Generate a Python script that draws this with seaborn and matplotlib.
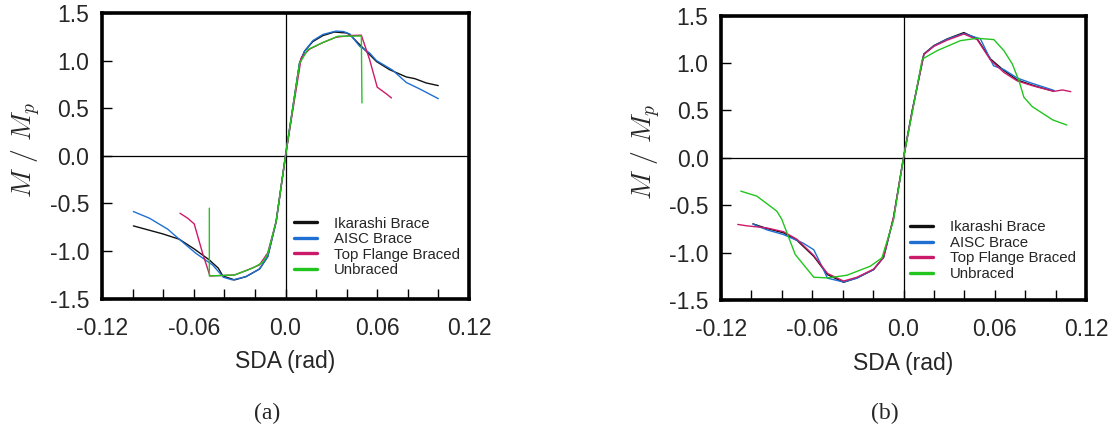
import numpy as np
import pandas as pd
import seaborn as sns
import matplotlib
matplotlib.use("Agg")
import matplotlib.pyplot as plt

# ----------------------------------------------------------------------
# Data: SDA (rad) vs M/Mp backbone curves
# ----------------------------------------------------------------------
series_names = ["Ikarashi Brace", "AISC Brace", "Top Flange Braced", "Unbraced"]
series_colors = ["#111111", "#1f6fd2", "#cc1a6a", "#22c41e"]

# panel (a)
ika_a_x = [-0.0995, -0.0805, -0.0695, -0.0597, -0.0498, -0.044, -0.041, -0.0334, -0.0258, -0.017,
           -0.0116, -0.0061, 0.0, 0.0092, 0.0125, 0.0179, 0.0245, 0.032, 0.0398, 0.042, 0.0485,
           0.0595, 0.068, 0.079, 0.0846, 0.092, 0.0999]
ika_a_y = [-0.737, -0.82, -0.877, -0.979, -1.095, -1.18, -1.263, -1.305, -1.27, -1.19,
           -1.06, -0.69, 0.0, 0.976, 1.10, 1.20, 1.263, 1.30, 1.29, 1.274, 1.168,
           0.99, 0.905, 0.828, 0.81, 0.765, 0.737]

aisc_a_x = [-0.0995, -0.089, -0.077, -0.0695, -0.0586, -0.0477, -0.0406, -0.0346, -0.0258, -0.017,
            -0.0116, -0.0061, 0.0, 0.0092, 0.0125, 0.0179, 0.0245, 0.033, 0.038, 0.042, 0.0485,
            0.055, 0.0595, 0.07, 0.079, 0.088, 0.0999]
aisc_a_y = [-0.586, -0.656, -0.772, -0.877, -1.025, -1.147, -1.277, -1.305, -1.27, -1.19,
            -1.06, -0.69, 0.0, 0.976, 1.10, 1.21, 1.275, 1.31, 1.305, 1.28, 1.15,
            1.08, 1.0, 0.90, 0.77, 0.70, 0.60]

top_a_x = [-0.069, -0.064, -0.0597, -0.0542, -0.0494, -0.0334, -0.0258, -0.017, -0.0116, -0.0061,
           0.0, 0.0103, 0.0157, 0.0245, 0.033, 0.042, 0.0496, 0.055, 0.060, 0.066, 0.0693]
top_a_y = [-0.604, -0.656, -0.716, -1.025, -1.263, -1.253, -1.207, -1.147, -1.02, -0.69,
           0.0, 1.03, 1.12, 1.19, 1.245, 1.263, 1.267, 1.01, 0.72, 0.65, 0.607]

unb_a_x = [-0.0498, -0.0498, -0.0334, -0.0214, -0.0149, -0.0116, -0.0061, 0.0, 0.0092, 0.0146,
           0.0245, 0.0343, 0.0496, 0.0500]
unb_a_y = [-0.551, -1.263, -1.253, -1.18, -1.12, -1.03, -0.69, 0.0, 0.97, 1.116,
           1.19, 1.256, 1.258, 0.555]

# panel (b)
ika_b_x = [-0.099, -0.0899, -0.0789, -0.070, -0.059, -0.050, -0.0394, -0.0306, -0.0197, -0.0131,
           -0.0066, 0.0, 0.0057, 0.0134, 0.020, 0.0287, 0.0397, 0.0485, 0.0572, 0.066, 0.0748,
           0.0858, 0.099]
ika_b_y = [-0.697, -0.746, -0.792, -0.872, -1.04, -1.232, -1.313, -1.267, -1.18, -1.05,
           -0.634, 0.0, 0.496, 1.095, 1.183, 1.253, 1.32, 1.253, 1.042, 0.92, 0.82,
           0.76, 0.70]

aisc_b_x = [-0.099, -0.0899, -0.0789, -0.066, -0.059, -0.0535, -0.050, -0.0394, -0.0306, -0.0197,
            -0.0131, -0.0066, 0.0, 0.0057, 0.0134, 0.020, 0.0287, 0.0397, 0.0506, 0.0592,
            0.066, 0.0748, 0.0836, 0.099]
aisc_b_y = [-0.70, -0.76, -0.81, -0.90, -0.97, -1.15, -1.27, -1.31, -1.27, -1.18,
            -1.05, -0.64, 0.0, 0.49, 1.09, 1.18, 1.25, 1.31, 1.253, 0.97,
            0.93, 0.84, 0.79, 0.71]

top_b_x = [-0.109, -0.103, -0.0899, -0.0789, -0.070, -0.059, -0.050, -0.0394, -0.0306, -0.0197,
           -0.0131, -0.0066, 0.0, 0.0057, 0.0134, 0.020, 0.0287, 0.0397, 0.0485, 0.0572,
           0.066, 0.0748, 0.0858, 0.099, 0.1045, 0.110]
top_b_y = [-0.703, -0.718, -0.74, -0.78, -0.86, -1.03, -1.22, -1.30, -1.26, -1.175,
           -1.05, -0.63, 0.0, 0.49, 1.09, 1.175, 1.24, 1.305, 1.245, 1.03,
           0.90, 0.81, 0.755, 0.70, 0.715, 0.697]

unb_b_x = [-0.107, -0.0964, -0.0833, -0.080, -0.0712, -0.059, -0.050, -0.0372, -0.0219, -0.0142,
           -0.0066, 0.0, 0.0057, 0.0123, 0.0222, 0.0375, 0.0485, 0.0594, 0.066, 0.0715,
           0.0759, 0.0792, 0.0846, 0.098, 0.1074]
unb_b_y = [-0.352, -0.405, -0.563, -0.65, -1.02, -1.26, -1.267, -1.239, -1.144, -1.056,
           -0.66, 0.0, 0.47, 1.04, 1.13, 1.235, 1.26, 1.246, 1.13, 0.99,
           0.813, 0.637, 0.54, 0.40, 0.345]

x_ticks = np.round(np.arange(-0.12, 0.1201, 0.02), 2)
x_labels = {-0.12: "-0.12", -0.06: "-0.06", 0.0: "0.0", 0.06: "0.06", 0.12: "0.12"}
y_ticks = [-1.5, -1.0, -0.5, 0.0, 0.5, 1.0, 1.5]
y_labels = ["-1.5", "-1.0", "-0.5", "0.0", "0.5", "1.0", "1.5"]


def to_long(xs, ys):
    """Stack the four series into one long table for seaborn."""
    frames = []
    for name, x, y in zip(series_names, xs, ys):
        frames.append(pd.DataFrame({"SDA": x, "M": y, "Case": name}))
    return pd.concat(frames, ignore_index=True)


panels = [
    ("(a)", to_long([ika_a_x, aisc_a_x, top_a_x, unb_a_x], [ika_a_y, aisc_a_y, top_a_y, unb_a_y]),
     [102 / 1116, 137.5 / 436, 367 / 1116, 285.5 / 436], 0.523, 0.287),
    ("(b)", to_long([ika_b_x, aisc_b_x, top_b_x, unb_b_x], [ika_b_y, aisc_b_y, top_b_y, unb_b_y]),
     [721 / 1116, 136 / 436, 365 / 1116, 284.5 / 436], 0.518, 0.28),
]

# ----------------------------------------------------------------------
# Figure
# ----------------------------------------------------------------------
sns.set_style("white")
plt.rcParams["font.family"] = ["Liberation Sans", "DejaVu Sans"]
plt.rcParams["mathtext.fontset"] = "cm"
plt.rcParams["axes.unicode_minus"] = False

fig = plt.figure(figsize=(11.16, 4.36), dpi=100)
palette = dict(zip(series_names, series_colors))

for tag, df, rect, lx, ly in panels:
    ax = fig.add_axes(rect)
    ax.axhline(0, color="black", lw=0.9, zorder=1)
    ax.axvline(0, color="black", lw=0.9, zorder=1)
    sns.lineplot(data=df, x="SDA", y="M", hue="Case", palette=palette, hue_order=series_names,
                 sort=False, estimator=None, units="Case", lw=1.0, ax=ax, zorder=2)

    ax.set_xlim(-0.12, 0.12)
    ax.set_ylim(-1.5, 1.5)
    ax.set_xticks(x_ticks)
    ax.set_xticklabels([x_labels.get(float(t), "") for t in x_ticks])
    ax.set_yticks(y_ticks)
    ax.set_yticklabels(y_labels)
    ax.tick_params(axis="x", bottom=True, top=False, direction="in", length=7, width=1,
                   color="black", pad=13, labelsize=16.5)
    ax.tick_params(axis="y", left=True, right=False, direction="in", length=7, width=1,
                   color="black", pad=9, labelsize=16.5)

    for s in ax.spines.values():
        s.set_linewidth(2.6)
        s.set_color("black")
        s.set_visible(True)

    ax.set_xlabel("SDA (rad)", fontsize=16.5)
    ax.xaxis.label.set_va("center")
    ax.xaxis.set_label_coords(0.5, -0.222)
    ax.set_ylabel(r"$M\ /\ M_p$", fontsize=20)
    ax.yaxis.label.set_va("center")
    ax.yaxis.set_label_coords(-0.205, 0.52)

    handles, labels = ax.get_legend_handles_labels()
    leg = ax.legend(handles, labels, loc="upper left", bbox_to_anchor=(lx, ly), frameon=False,
                    fontsize=10.8, handlelength=1.55, handletextpad=1.1, labelspacing=0.1,
                    borderpad=0, borderaxespad=0)
    for h in leg.get_lines():
        h.set_linewidth(2.4)

    fig.text(rect[0] + rect[2] * 0.45, 1 - 413 / 436, tag, ha="center", va="center",
             fontsize=17, family=["Liberation Serif", "DejaVu Serif"])

fig.savefig("out.png", dpi=100)
